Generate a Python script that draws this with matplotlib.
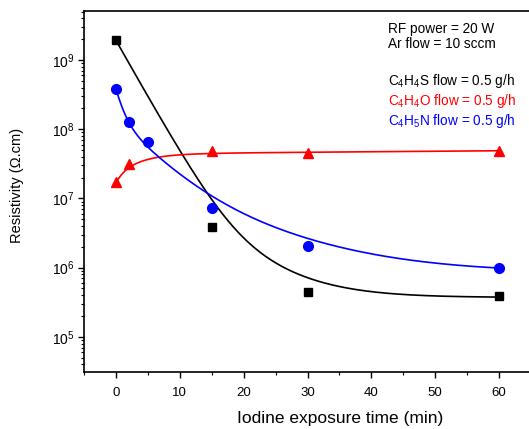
import numpy as np
import matplotlib
matplotlib.use("Agg")
import matplotlib.pyplot as plt
from matplotlib.ticker import LogLocator, MultipleLocator, NullFormatter

plt.rcParams['font.family'] = ['Liberation Sans', 'DejaVu Sans']
plt.rcParams['mathtext.fontset'] = 'custom'
plt.rcParams['mathtext.rm'] = 'Liberation Sans'
plt.rcParams['mathtext.it'] = 'Liberation Sans:italic'
plt.rcParams['mathtext.bf'] = 'Liberation Sans:bold'

# measured points (time in min, resistivity in ohm.cm)
t_s = [0, 15, 30, 60]
rho_s = [1.95e9, 3.9e6, 4.4e5, 3.9e5]          # C4H4S

t_o = [0, 2, 15, 30, 60]
rho_o = [1.75e7, 3.1e7, 4.8e7, 4.6e7, 4.9e7]   # C4H4O

t_n = [0, 2, 5, 15, 30, 60]
rho_n = [3.8e8, 1.25e8, 6.5e7, 7.3e6, 2.05e6, 9.9e5]  # C4H5N

# fit curves (exponential decay fits, parameters)
fit_s_y0 = 3.7e5
fit_s_terms = [(1.9e9, 2.65), (2.2e7, 7.1)]
fit_n_y0 = 8.5e5
fit_n_terms = [(2.4e8, 1.0), (1.2e8, 4.5), (2.0e7, 12.0)]
fit_o_y0 = 4.4e7
fit_o_slope = 8e4
fit_o_terms = [(-2.74e7, 4.0)]


def expdec(x, y0, terms, slope=0.0):
    y = y0 + slope * x
    for a, t in terms:
        y = y + a * np.exp(-x / t)
    return y


x = np.linspace(0, 60, 400)

fig = plt.figure(figsize=(5.29, 4.29), dpi=100)
ax = fig.add_axes([84 / 529, 1 - 372 / 429, (531 - 84) / 529, (372 - 11) / 429])

ax.plot(x, expdec(x, fit_s_y0, fit_s_terms), color='black', lw=1.2)
ax.plot(x, expdec(x, fit_o_y0, fit_o_terms, fit_o_slope), color='red', lw=1.2)
ax.plot(x, expdec(x, fit_n_y0, fit_n_terms), color='blue', lw=1.2)

ax.plot(t_s, rho_s, 's', color='black', ms=6, ls='none')
ax.plot(t_o, rho_o, '^', color='red', ms=7.5, ls='none')
ax.plot(t_n, rho_n, 'o', color='blue', ms=7, ls='none')

ax.set_yscale('log')
ax.set_xlim(-5, 65)
ax.set_ylim(3.1e4, 5.1e9)
ax.xaxis.set_major_locator(MultipleLocator(10))
ax.xaxis.set_minor_locator(MultipleLocator(5))
ax.yaxis.set_major_locator(LogLocator(base=10, numticks=20))
ax.yaxis.set_minor_locator(LogLocator(base=10, subs=np.arange(2, 10), numticks=20))
ax.yaxis.set_minor_formatter(NullFormatter())
ax.tick_params(which='major', direction='out', length=4, width=1, labelsize=9.5)
ax.tick_params(which='minor', direction='out', length=2.5, width=0.8)
ax.tick_params(axis='x', pad=7)
ax.tick_params(axis='y', pad=3, labelsize=10)
ax.spines['right'].set_visible(False)
for s in ['left', 'bottom', 'top']:
    ax.spines[s].set_linewidth(1.2)

ax.set_xlabel('Iodine exposure time (min)', fontsize=12.5)
ax.xaxis.set_label_coords(0.573, -0.108, transform=ax.transAxes)
ax.xaxis.label.set_va('top')
ax.set_ylabel('Resistivity (\u03a9.cm)', fontsize=10.5)
ax.yaxis.set_label_coords(-0.134, 0.518, transform=ax.transAxes)

tx = 388 / 529
fs = 9.8
fig.text(tx, 1 - 33 / 429, 'RF power = 20 W', fontsize=fs)
fig.text(tx, 1 - 48 / 429, 'Ar flow = 10 sccm', fontsize=fs)
fig.text(tx, 1 - 85 / 429, r'C$_4$H$_4$S flow = 0.5 g/h', fontsize=fs, color='black')
fig.text(tx, 1 - 105 / 429, r'C$_4$H$_4$O flow = 0.5 g/h', fontsize=fs, color='red')
fig.text(tx, 1 - 125 / 429, r'C$_4$H$_5$N flow = 0.5 g/h', fontsize=fs, color='blue')

fig.savefig('out.png', dpi=100)
